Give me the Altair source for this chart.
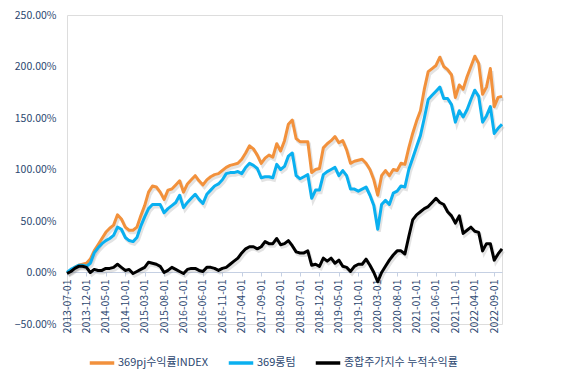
import altair as alt
import pandas as pd

# monthly categories 2013-07 .. 2022-11
dates = pd.date_range("2013-07-01", periods=113, freq="MS").strftime("%Y-%m-%d").tolist()
tick_dates = dates[::5]

series_names = ["369pj수익률INDEX", "369롱텀", "종합주가지수 누적수익률"]
series_colors = ["#F2913C", "#0AB0F0", "#000000"]

index_369pj = [
    0, 2, 5, 7, 8, 9, 13, 21, 27, 33,
    39, 43, 46, 56, 52, 44, 41, 41, 44, 55,
    65, 78, 84, 83, 78, 71, 80, 81, 85, 89,
    78, 86, 90, 94, 89, 85, 90, 93, 95, 96,
    99, 102, 104, 105, 106, 110, 116, 123, 120, 114,
    106, 111, 114, 112, 125, 118, 128, 144, 148, 130,
    127, 127, 127, 97, 100, 101, 121, 125, 128, 132,
    126, 128, 119, 106, 108, 109, 110, 106, 100, 90,
    75, 94, 99, 94, 100, 99, 106, 105, 121, 135,
    147, 157, 178, 195, 198, 201, 209, 200, 197, 192,
    170, 182, 178, 190, 200, 210, 203, 173, 180, 198,
    161, 170, 171,
]

longterm_369 = [
    0, 3, 5, 7, 7, 6, 9, 19, 24, 28,
    31, 33, 36, 44, 42, 34, 31, 30, 34, 45,
    54, 62, 66, 66, 66, 58, 62, 65, 68, 75,
    63, 68, 72, 76, 71, 67, 76, 80, 84, 86,
    90, 96, 97, 97, 98, 96, 102, 106, 104, 101,
    92, 93, 93, 92, 105, 100, 103, 113, 116, 94,
    91, 93, 95, 72, 80, 80, 95, 98, 100, 102,
    94, 99, 94, 81, 81, 79, 81, 83, 75, 65,
    42, 66, 70, 66, 77, 79, 84, 83, 100, 111,
    122, 133, 150, 168, 172, 176, 180, 169, 169, 163,
    146, 157, 151, 158, 168, 177, 171, 146, 152, 161,
    135, 140, 144,
]

kospi_cum = [
    -1, 1, 4, 6, 6, 5, 0, 3, 2, 2,
    4, 4, 5, 8, 5, 2, 3, -1, 1, 3,
    5, 10, 9, 8, 6, 0, 2, 5, 3, 1,
    -1, 3, 4, 4, 2, 1, 5, 5, 4, 2,
    4, 5, 8, 11, 14, 19, 23, 25, 25, 23,
    25, 30, 28, 28, 33, 27, 28, 31, 26, 20,
    19, 19, 21, 7, 8, 6, 14, 11, 14, 9,
    12, 6, 5, 1, 6, 8, 8, 13, 7, 0,
    -9, 0, 6, 12, 17, 21, 21, 18, 35, 51,
    56, 59, 62, 64, 68, 72, 68, 66, 59, 55,
    48, 55, 38, 41, 44, 40, 39, 21, 28, 28,
    12, 18, 23,
]

y_ticks = [-50, 0, 50, 100, 150, 200, 250]

rows = []
for name, vals in zip(series_names, [index_369pj, longterm_369, kospi_cum]):
    for d, v in zip(dates, vals):
        rows.append({"date": d, "series": name, "value": v})
df = pd.DataFrame(rows)

label_color = "#2C4770"
font = "Noto Sans CJK KR"

x_enc = alt.X(
    "date:O",
    sort=None,
    scale=alt.Scale(type="point", padding=0),
    axis=alt.Axis(
        title=None,
        values=tick_dates,
        labelAngle=-90,
        labelColor=label_color,
        labelFont=font,
        labelFontSize=10.5,
        labelPadding=3,
        domainColor="#C5D0E3",
        tickColor="#C5D0E3",
        tickSize=4,
        offset=-52,
    ),
)
y_enc = alt.Y(
    "value:Q",
    scale=alt.Scale(domain=[-50, 250], nice=False, zero=False),
    axis=alt.Axis(
        title=None,
        values=y_ticks,
        labelExpr="format(datum.value, '.2f') + '%'",
        labelColor=label_color,
        labelFont=font,
        labelFontSize=10.5,
        labelPadding=11,
        grid=False,
        domain=False,
        ticks=False,
    ),
)

shadow = alt.Chart(df).mark_line(
    strokeWidth=3.2, color="#808080", opacity=0.22, xOffset=1.5, yOffset=2.5
).encode(x=x_enc, y=y_enc, detail="series:N")

lines = alt.Chart(df).mark_line(strokeWidth=3, strokeJoin="round").encode(
    x=x_enc,
    y=y_enc,
    color=alt.Color(
        "series:N",
        scale=alt.Scale(domain=series_names, range=series_colors),
        legend=alt.Legend(
            title=None,
            orient="none",
            direction="horizontal",
            legendX=21,
            legendY=334,
            symbolType="stroke",
            symbolSize=600,
            symbolStrokeWidth=3.5,
            labelColor=label_color,
            labelFont=font,
            labelFontSize=11,
            labelOffset=2,
            columnPadding=12,
        ),
    ),
)

chart = (
    alt.layer(shadow, lines)
    .properties(
        width=435,
        height=309,
        autosize=alt.AutoSizeParams(type="none"),
        padding={"left": 59, "top": 7, "right": 40, "bottom": 52},
    )
    .configure_view(stroke=None)
    .configure(background="white")
)

chart.save("out.html", embed_options={"renderer": "svg", "actions": False})
